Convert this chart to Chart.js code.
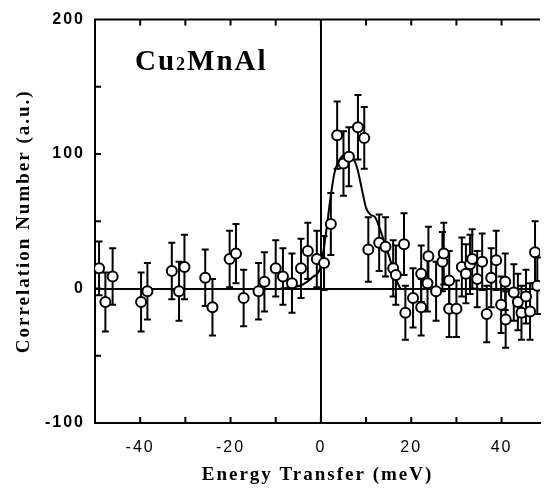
<!DOCTYPE html>
<html>
<head>
<meta charset="utf-8">
<script src="https://cdn.jsdelivr.net/npm/chart.js@4.4.0/dist/chart.umd.min.js"></script>
<style>
  html, body { margin: 0; padding: 0; background: #fff; }
</style>
</head>
<body>
<canvas id="chart1" width="547" height="488"></canvas>
<script>
// measured points (energy in meV, correlation number, error bar half-length)
var energy = [-49.1, -47.7, -46.1, -39.8, -38.4, -33.0, -31.4, -30.2, -25.6, -24.0,
              -20.2, -18.8, -17.1, -13.8, -12.5, -10.0, -8.4, -6.4, -4.4, -2.9,
              -0.9, 0.7, 2.2, 3.6, 5.0, 6.2, 8.2, 9.6, 10.5, 12.9,
              14.3, 16.0, 16.6, 18.4, 18.7, 20.4, 22.2, 22.2, 23.6, 23.8,
              25.5, 26.9, 27.2, 28.4, 28.4, 30.0, 31.2, 32.1, 33.0, 33.5,
              34.6, 35.7, 36.7, 37.7, 38.8, 39.9, 40.8, 40.9, 42.7, 43.6,
              44.4, 45.4, 46.3, 47.4, 47.9];
var counts = [15, -10, 9, -10, -2, 13, -2, 16, 8, -14,
              22, 26, -7, -2, 5, 15, 9, 4, 15, 28,
              22, 19, 48, 114, 93, 98, 120, 112, 29, 34,
              31, 15, 10, 33, -18, -7, 11, -14, 4, 24,
              -2, 20, 26, 6, -15, -15, 16, 11, 18, 22,
              7, 20, -19, 8, 21, -12, 5, -23, -3, -10,
              -18, -6, -17, 27, 2];
var errors = [20, 22, 21, 22, 21, 21, 22, 24, 21, 21,
              21, 22, 21, 21, 22, 21, 21, 22, 22, 21,
              21, 20, 23, 25, 24, 22, 24, 23, 24, 21,
              22, 21, 22, 23, 20, 22, 21, 21, 21, 22,
              22, 22, 23, 22, 21, 21, 22, 22, 22, 22,
              21, 21, 21, 22, 22, 21, 21, 21, 21, 21,
              20, 20, 21, 23, 21];

// fitted curve
var fitEnergy = [-9, -6, -4, -2, 0, 1, 2, 3, 4, 5, 6, 7, 8, 9, 10, 11, 12, 13, 14, 15, 16, 17, 17.6];
var fitCounts = [0, 1, 3, 8, 17, 38, 64, 86, 95, 99, 98, 97, 90, 75, 60, 55, 53, 45, 35, 25, 14, 4, 0];

var xTicks = [-40, -20, 0, 20, 40];
var yTicks = [-100, 0, 100, 200];

var points = energy.map(function(e, i) { return {x: e, y: counts[i]}; });
var fitLine = fitEnergy.map(function(e, i) { return {x: e, y: fitCounts[i]}; });

var ctx1 = document.getElementById('chart1');

// error bars, frame top line, inward tick marks, sample label
var extras = {
    id: 'extras',
    beforeDraw: function(chart) {
        var c = chart.ctx;
        c.save();
        c.fillStyle = '#fff';
        c.fillRect(0, 0, chart.width, chart.height);
        c.restore();
        c.letterSpacing = '2px';
    },
    beforeDatasetsDraw: function(chart) {
        var c = chart.ctx, xs = chart.scales.x, ys = chart.scales.y;
        c.save();
        c.strokeStyle = '#000';
        c.lineWidth = 2;
        for (var i = 0; i < energy.length; i++) {
            var px = xs.getPixelForValue(energy[i]);
            var top = ys.getPixelForValue(counts[i] + errors[i]);
            var bot = ys.getPixelForValue(counts[i] - errors[i]);
            c.beginPath();
            c.moveTo(px, top); c.lineTo(px, bot);
            c.moveTo(px - 3.5, top); c.lineTo(px + 3.5, top);
            c.moveTo(px - 3.5, bot); c.lineTo(px + 3.5, bot);
            c.stroke();
        }
        c.restore();
    },
    afterDraw: function(chart) {
        var c = chart.ctx, a = chart.chartArea, xs = chart.scales.x, ys = chart.scales.y;
        c.save();
        c.strokeStyle = '#000';
        c.lineWidth = 2;
        c.beginPath();
        c.moveTo(a.left - 1, a.top); c.lineTo(a.right, a.top);
        for (var v = -40; v <= 40; v += 10) {
            var px = xs.getPixelForValue(v);
            c.moveTo(px, a.bottom); c.lineTo(px, a.bottom - 6);
            c.moveTo(px, a.top); c.lineTo(px, a.top + 6);
        }
        for (var w = -50; w <= 150; w += 50) {
            var py = ys.getPixelForValue(w);
            c.moveTo(a.left, py); c.lineTo(a.left + 6, py);
        }
        c.stroke();

        // sample name
        c.letterSpacing = '2px';
        c.fillStyle = '#000';
        c.textBaseline = 'alphabetic';
        var lx = a.left + 40, ly = a.top + 50;
        c.font = 'bold 29px "Liberation Serif"';
        c.fillText('Cu', lx, ly);
        lx += c.measureText('Cu').width;
        c.font = 'bold 18px "Liberation Serif"';
        c.fillText('2', lx, ly);
        lx += c.measureText('2').width;
        c.font = 'bold 29px "Liberation Serif"';
        c.fillText('MnAl', lx, ly);
        c.restore();
    }
};

let config = {
    type: 'scatter',
    data: {
        datasets: [{
            label: 'Data',
            data: points,
            pointStyle: 'circle',
            pointRadius: 5,
            pointBorderWidth: 2,
            pointBorderColor: '#000',
            pointBackgroundColor: '#fff',
            showLine: false
        }, {
            label: 'Fit',
            data: fitLine,
            showLine: true,
            borderColor: '#000',
            borderWidth: 2,
            pointRadius: 0,
            cubicInterpolationMode: 'monotone'
        }]
    },
    options: {
        responsive: false,
        animation: false,
        layout: {
            padding: {left: 0, right: 0, top: 10, bottom: 0}
        },
        plugins: {
            legend: {display: false},
            tooltip: {enabled: false}
        },
        scales: {
            x: {
                type: 'linear',
                min: -50,
                max: 48.5,
                border: {display: true, color: '#000', width: 2},
                grid: {
                    drawTicks: false,
                    lineWidth: 2,
                    color: function(c) { return c.tick && c.tick.value === 0 ? '#000' : 'rgba(0,0,0,0)'; }
                },
                afterBuildTicks: function(scale) {
                    scale.ticks = xTicks.map(function(v) { return {value: v}; });
                },
                afterFit: function(scale) { scale.height = 65; },
                ticks: {
                    color: '#000',
                    padding: 15,
                    font: {family: '"Liberation Sans"', size: 16},
                    callback: function(v) { return v; }
                },
                title: {
                    display: true,
                    text: 'Energy Transfer (meV)',
                    color: '#000',
                    padding: {top: 0, bottom: 2},
                    font: {family: '"Liberation Serif"', size: 19, weight: 'bold'}
                }
            },
            y: {
                type: 'linear',
                min: -100,
                max: 200,
                border: {display: true, color: '#000', width: 2},
                grid: {
                    drawTicks: false,
                    lineWidth: 2,
                    color: function(c) { return c.tick && c.tick.value === 0 ? '#000' : 'rgba(0,0,0,0)'; }
                },
                afterBuildTicks: function(scale) {
                    scale.ticks = yTicks.map(function(v) { return {value: v}; });
                },
                afterFit: function(scale) { scale.width = 95; },
                ticks: {
                    color: '#000',
                    padding: 10,
                    font: {family: '"Liberation Sans"', size: 16, weight: 'bold'},
                    callback: function(v) { return v; }
                },
                title: {
                    display: true,
                    text: 'Correlation Number (a.u.)',
                    color: '#000',
                    padding: {top: 13, bottom: 0},
                    font: {family: '"Liberation Serif"', size: 19, weight: 'bold'}
                }
            }
        }
    },
    plugins: [extras]
};

chart1 = new Chart(ctx1, config);
</script>
</body>
</html>
